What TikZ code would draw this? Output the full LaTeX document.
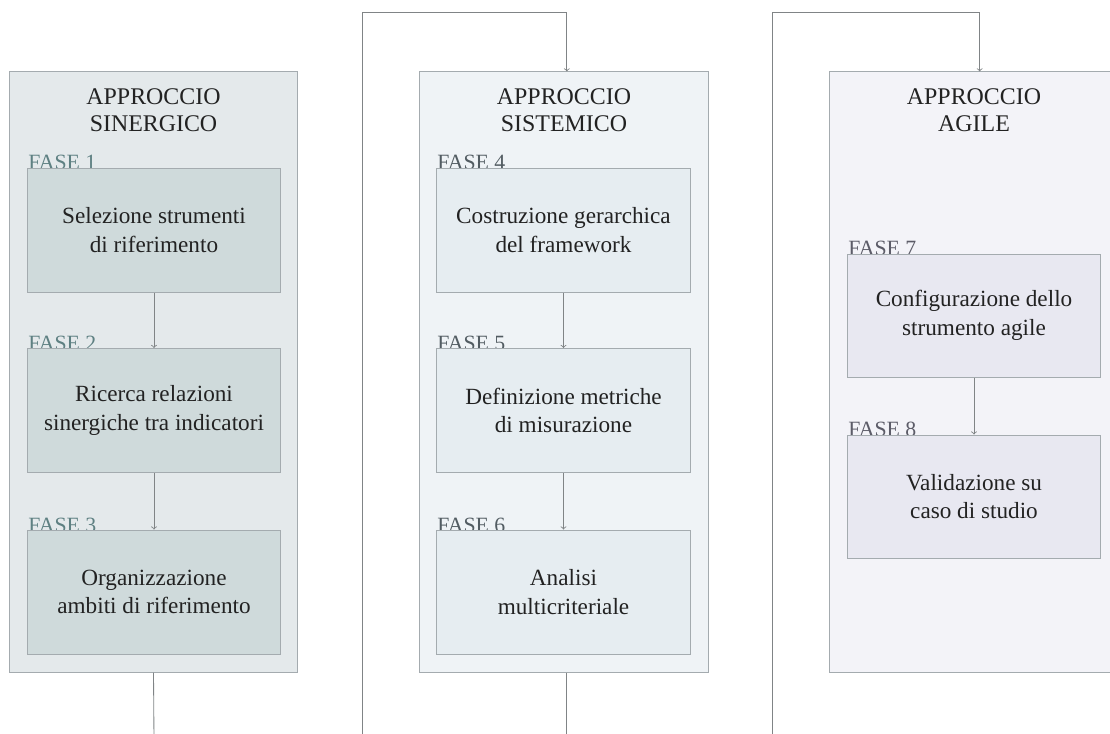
\documentclass[tikz,border=0pt]{standalone}
\usepackage{fontspec}
\setmainfont{Liberation Serif}
\usepackage{xcolor}
\definecolor{SynOuter}{HTML}{E4E9EB}
\definecolor{SynInner}{HTML}{CFDADB}
\definecolor{SynLabel}{HTML}{5E8082}
\definecolor{SysOuter}{HTML}{EFF3F6}
\definecolor{SysInner}{HTML}{E6EDF1}
\definecolor{SysLabel}{HTML}{525C62}
\definecolor{AgiOuter}{HTML}{F3F3F8}
\definecolor{AgiInner}{HTML}{E8E8F1}
\definecolor{AgiLabel}{HTML}{5C5C68}
\definecolor{FrameLine}{HTML}{A4ABAF}
\definecolor{LinkLine}{HTML}{808486}
\definecolor{BodyText}{HTML}{222222}

\begin{document}
\begin{tikzpicture}[x=0.025cm,y=-0.025cm,
  colbox/.style={draw=FrameLine,line width=0.7pt,minimum width=7.2cm,minimum height=15cm,inner sep=0pt},
  phasebox/.style={draw=FrameLine,line width=0.7pt,minimum width=6.3cm,minimum height=3.1cm,inner sep=0pt,
    align=center,text=BodyText,font=\fontsize{16.5}{20.5}\selectfont},
  coltitle/.style={anchor=north,align=center,inner sep=0pt,text=BodyText,font=\fontsize{17}{19.5}\selectfont},
  phaselabel/.style={anchor=base west,inner sep=0pt,font=\fontsize{15.5}{18}\selectfont},
  link/.style={draw=LinkLine,line width=0.6pt}]
\path[use as bounding box] (0,0) rectangle (1110,733);
\node[colbox,fill=SynOuter,minimum width=7.175cm] (syn) at (153.5,372) {};
\node[colbox,fill=SysOuter] (sys) at (564,372) {};
\node[colbox,fill=AgiOuter] (agi) at (974,372) {};
\node[coltitle] (syntitle) at (153.5,88) {APPROCCIO\\SINERGICO};
\node[coltitle] (systitle) at (564,88) {APPROCCIO\\SISTEMICO};
\node[coltitle] (agititle) at (974,88) {APPROCCIO\\AGILE};
\node[phaselabel,text=SynLabel] (l1) at (28,169) {FASE 1};
\node[phaselabel,text=SynLabel] (l2) at (28,350) {FASE 2};
\node[phaselabel,text=SynLabel] (l3) at (28,532) {FASE 3};
\node[phaselabel,text=SysLabel] (l4) at (437,169) {FASE 4};
\node[phaselabel,text=SysLabel] (l5) at (437,350) {FASE 5};
\node[phaselabel,text=SysLabel] (l6) at (437,532) {FASE 6};
\node[phaselabel,text=AgiLabel] (l7) at (848,255) {FASE 7};
\node[phaselabel,text=AgiLabel] (l8) at (848,436) {FASE 8};
\node[phasebox,fill=SynInner] (f1) at (154,230) {Selezione strumenti\\di riferimento};
\node[phasebox,fill=SynInner] (f2) at (154,410.5) {Ricerca relazioni\\sinergiche tra indicatori};
\node[phasebox,fill=SynInner] (f3) at (154,592) {Organizzazione\\ambiti di riferimento};
\node[phasebox,fill=SysInner,minimum width=6.325cm] (f4) at (563.5,230) {Costruzione gerarchica\\del framework};
\node[phasebox,fill=SysInner,minimum width=6.325cm] (f5) at (563.5,410.5) {Definizione metriche\\di misurazione};
\node[phasebox,fill=SysInner,minimum width=6.325cm] (f6) at (563.5,592) {Analisi\\multicriteriale};
\node[phasebox,fill=AgiInner,minimum height=3.075cm] (f7) at (974,315.5) {Configurazione dello\\strumento agile};
\node[phasebox,fill=AgiInner,minimum height=3.075cm] (f8) at (974,496.5) {Validazione su\\caso di studio};
\draw[link,->] (f1) -- (f2);
\draw[link,->] (f2) -- (f3);
\draw[link,->] (f4) -- (f5);
\draw[link,->] (f5) -- (f6);
\draw[link,->] (f7) -- (f8);
\coordinate (synend) at (154,740);
\coordinate (sysend) at (566,740);
\coordinate (sysstart) at (362,740);
\coordinate (systurn) at (362,12);
\coordinate (agistart) at (772,740);
\coordinate (agiturn) at (772,12);
\draw[link] (syn.south) -- (synend);
\draw[link] (sys.south -| sysend) -- (sysend);
\draw[link,->] (sysstart) -- (systurn) -| ([xshift=2]sys.north);
\draw[link,->] (agistart) -- (agiturn) -| ([xshift=4]agi.north);
\end{tikzpicture}
\end{document}
